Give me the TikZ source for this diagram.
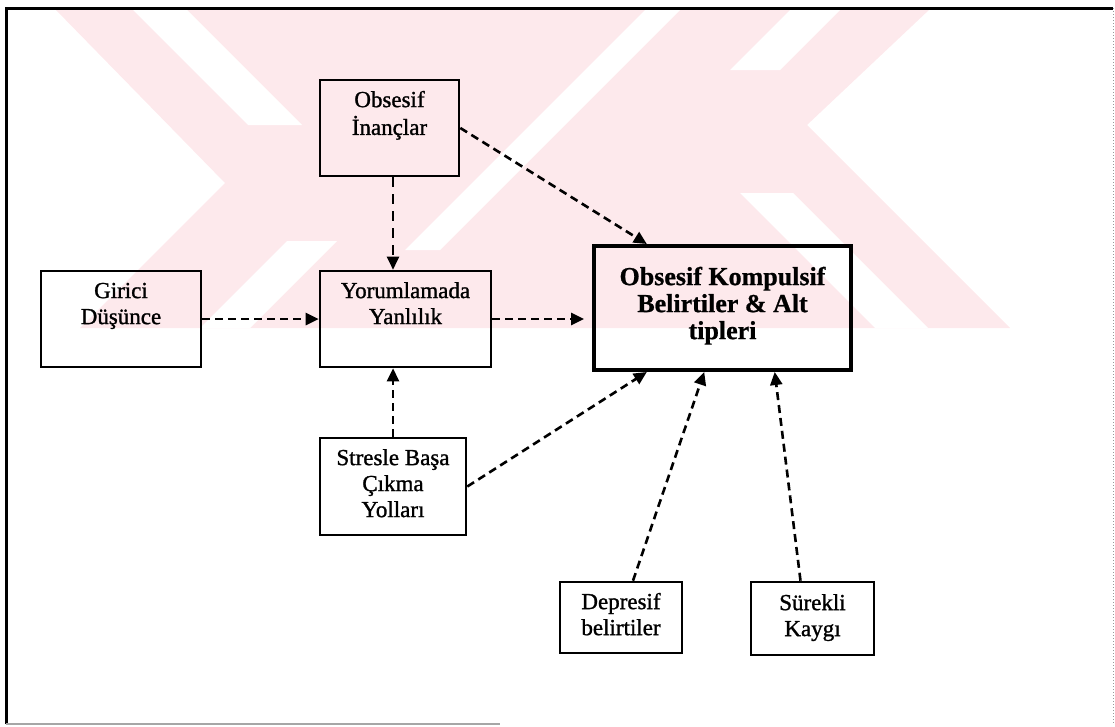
\documentclass[tikz,border=0pt]{standalone}
\usepackage{fontspec}
\setmainfont{Liberation Serif}
\newfontfamily\scanfont{Liberation Serif}[FakeBold=1.2]
\newfontfamily\scanbold{Liberation Serif Bold}[FakeBold=0.8]
\usetikzlibrary{arrows.meta,calc}
\definecolor{wm}{HTML}{FDE9EC}
\tikzset{
  boxn/.style={draw=black, line width=2.6pt, minimum width=#1, inner sep=0pt},
  mainbox/.style={draw=black, line width=4pt, inner sep=0pt},
  lbl/.style={anchor=north, inner sep=0pt, align=center, font=\scanfont\fontsize{23}{26}\selectfont},
  blbl/.style={anchor=north, inner sep=0pt, align=center, font=\scanbold\fontsize{26}{27}\selectfont},
  conn/.style={line width=2.6pt, dash pattern=on 8pt off 5pt, -{Triangle[length=13pt,width=12pt]}},
  vconn/.style={line width=2.2pt, dash pattern=on 10pt off 7pt, -{Triangle[length=13pt,width=12pt]}},
  gap/.style={fill=white, draw=none}
}
\begin{document}
\begin{tikzpicture}[x=1pt,y=-1pt]
\useasboundingbox (0,0) rectangle (1115,726);
% watermark (approximate)
\begin{scope}
\clip (8,9) rectangle (1110,328);
\fill[wm] (55,9) -- (930,9) -- (807,125) -- (1010,328) -- (80,328) -- (225,183) -- cycle;
\fill[gap] (132,9) -- (186,9) -- (302,125) -- (248,125) -- cycle;
\fill[gap] (287,241) -- (337,241) -- (250,328) -- (200,328) -- cycle;
\fill[gap] (740,193) -- (793,193) -- (928,328) -- (875,328) -- cycle;
\fill[gap] (791,9) -- (841,9) -- (780,70) -- (730,70) -- cycle;
\fill[gap] (646,9) -- (681,9) -- (440,250) -- (405,250) -- cycle;
\end{scope}
% frame
\draw[line width=3pt] (6,724) -- (6,8) -- (1113,8);
\draw[line width=1pt, black!40, dotted] (1113,8) -- (1113,724);
\draw[line width=2pt, black!35] (6,724) -- (500,724);
% boxes
\node[boxn=139pt, minimum height=96pt] (obs) at (389.5,128) {};
\node[boxn=171pt, minimum height=96pt] (yor) at (405.5,319) {};
\node[boxn=160pt, minimum height=96pt] (gir) at (121,319) {};
\node[mainbox, minimum width=257pt, minimum height=124pt] (okb) at (722.5,308) {};
\node[boxn=146pt, minimum height=97pt] (str) at (393,486.5) {};
\node[boxn=122pt, minimum height=71pt] (dep) at (621,617.5) {};
\node[boxn=123pt, minimum height=73pt] (sur) at (812.5,618.5) {};
% labels
\node[lbl] (obsL) at ($(obs.north)+(0,10)$) {\strut Obsesif\\\strut İnançlar};
\node[lbl] (yorL) at ($(yor.north)+(0,10)$) {\strut Yorumlamada\\\strut Yanlılık};
\node[lbl] (girL) at ($(gir.north)+(0,10)$) {\strut Girici\\\strut Düşünce};
\node[blbl] (okbL) at ($(okb.north)+(0,22)$) {\strut Obsesif Kompulsif\\\strut Belirtiler \& Alt\\\strut tipleri};
\node[lbl] (strL) at ($(str.north)+(0,10)$) {\strut Stresle Başa\\\strut Çıkma\\\strut Yolları};
\node[lbl] (depL) at ($(dep.north)+(0,10)$) {\strut Depresif\\\strut belirtiler};
\node[lbl] (surL) at ($(sur.north)+(0,11)$) {\strut Sürekli\\\strut Kaygı};
% connectors
\draw[vconn] (obs.south -| str.north) -- (yor.north -| str.north);
\draw[conn] (obs.east) -- ($(okb.north west)!0.21!(okb.north east)$);
\draw[conn] (gir.east) -- (yor.west);
\draw[conn] (yor.east) -- ($(yor.east -| okb.west)+(-8,0)$);
\draw[conn] (str.north) -- (str.north |- yor.south);
\draw[conn] (str.east) -- ($(okb.south west)!0.21!(okb.south east)$);
\draw[conn] ($(dep.north)+(12,0)$) -- ($(okb.south west)!0.43!(okb.south east)$);
\draw[conn] ($(sur.north)+(-12,0)$) -- ($(okb.south west)!0.70!(okb.south east)$);
\end{tikzpicture}
\end{document}
